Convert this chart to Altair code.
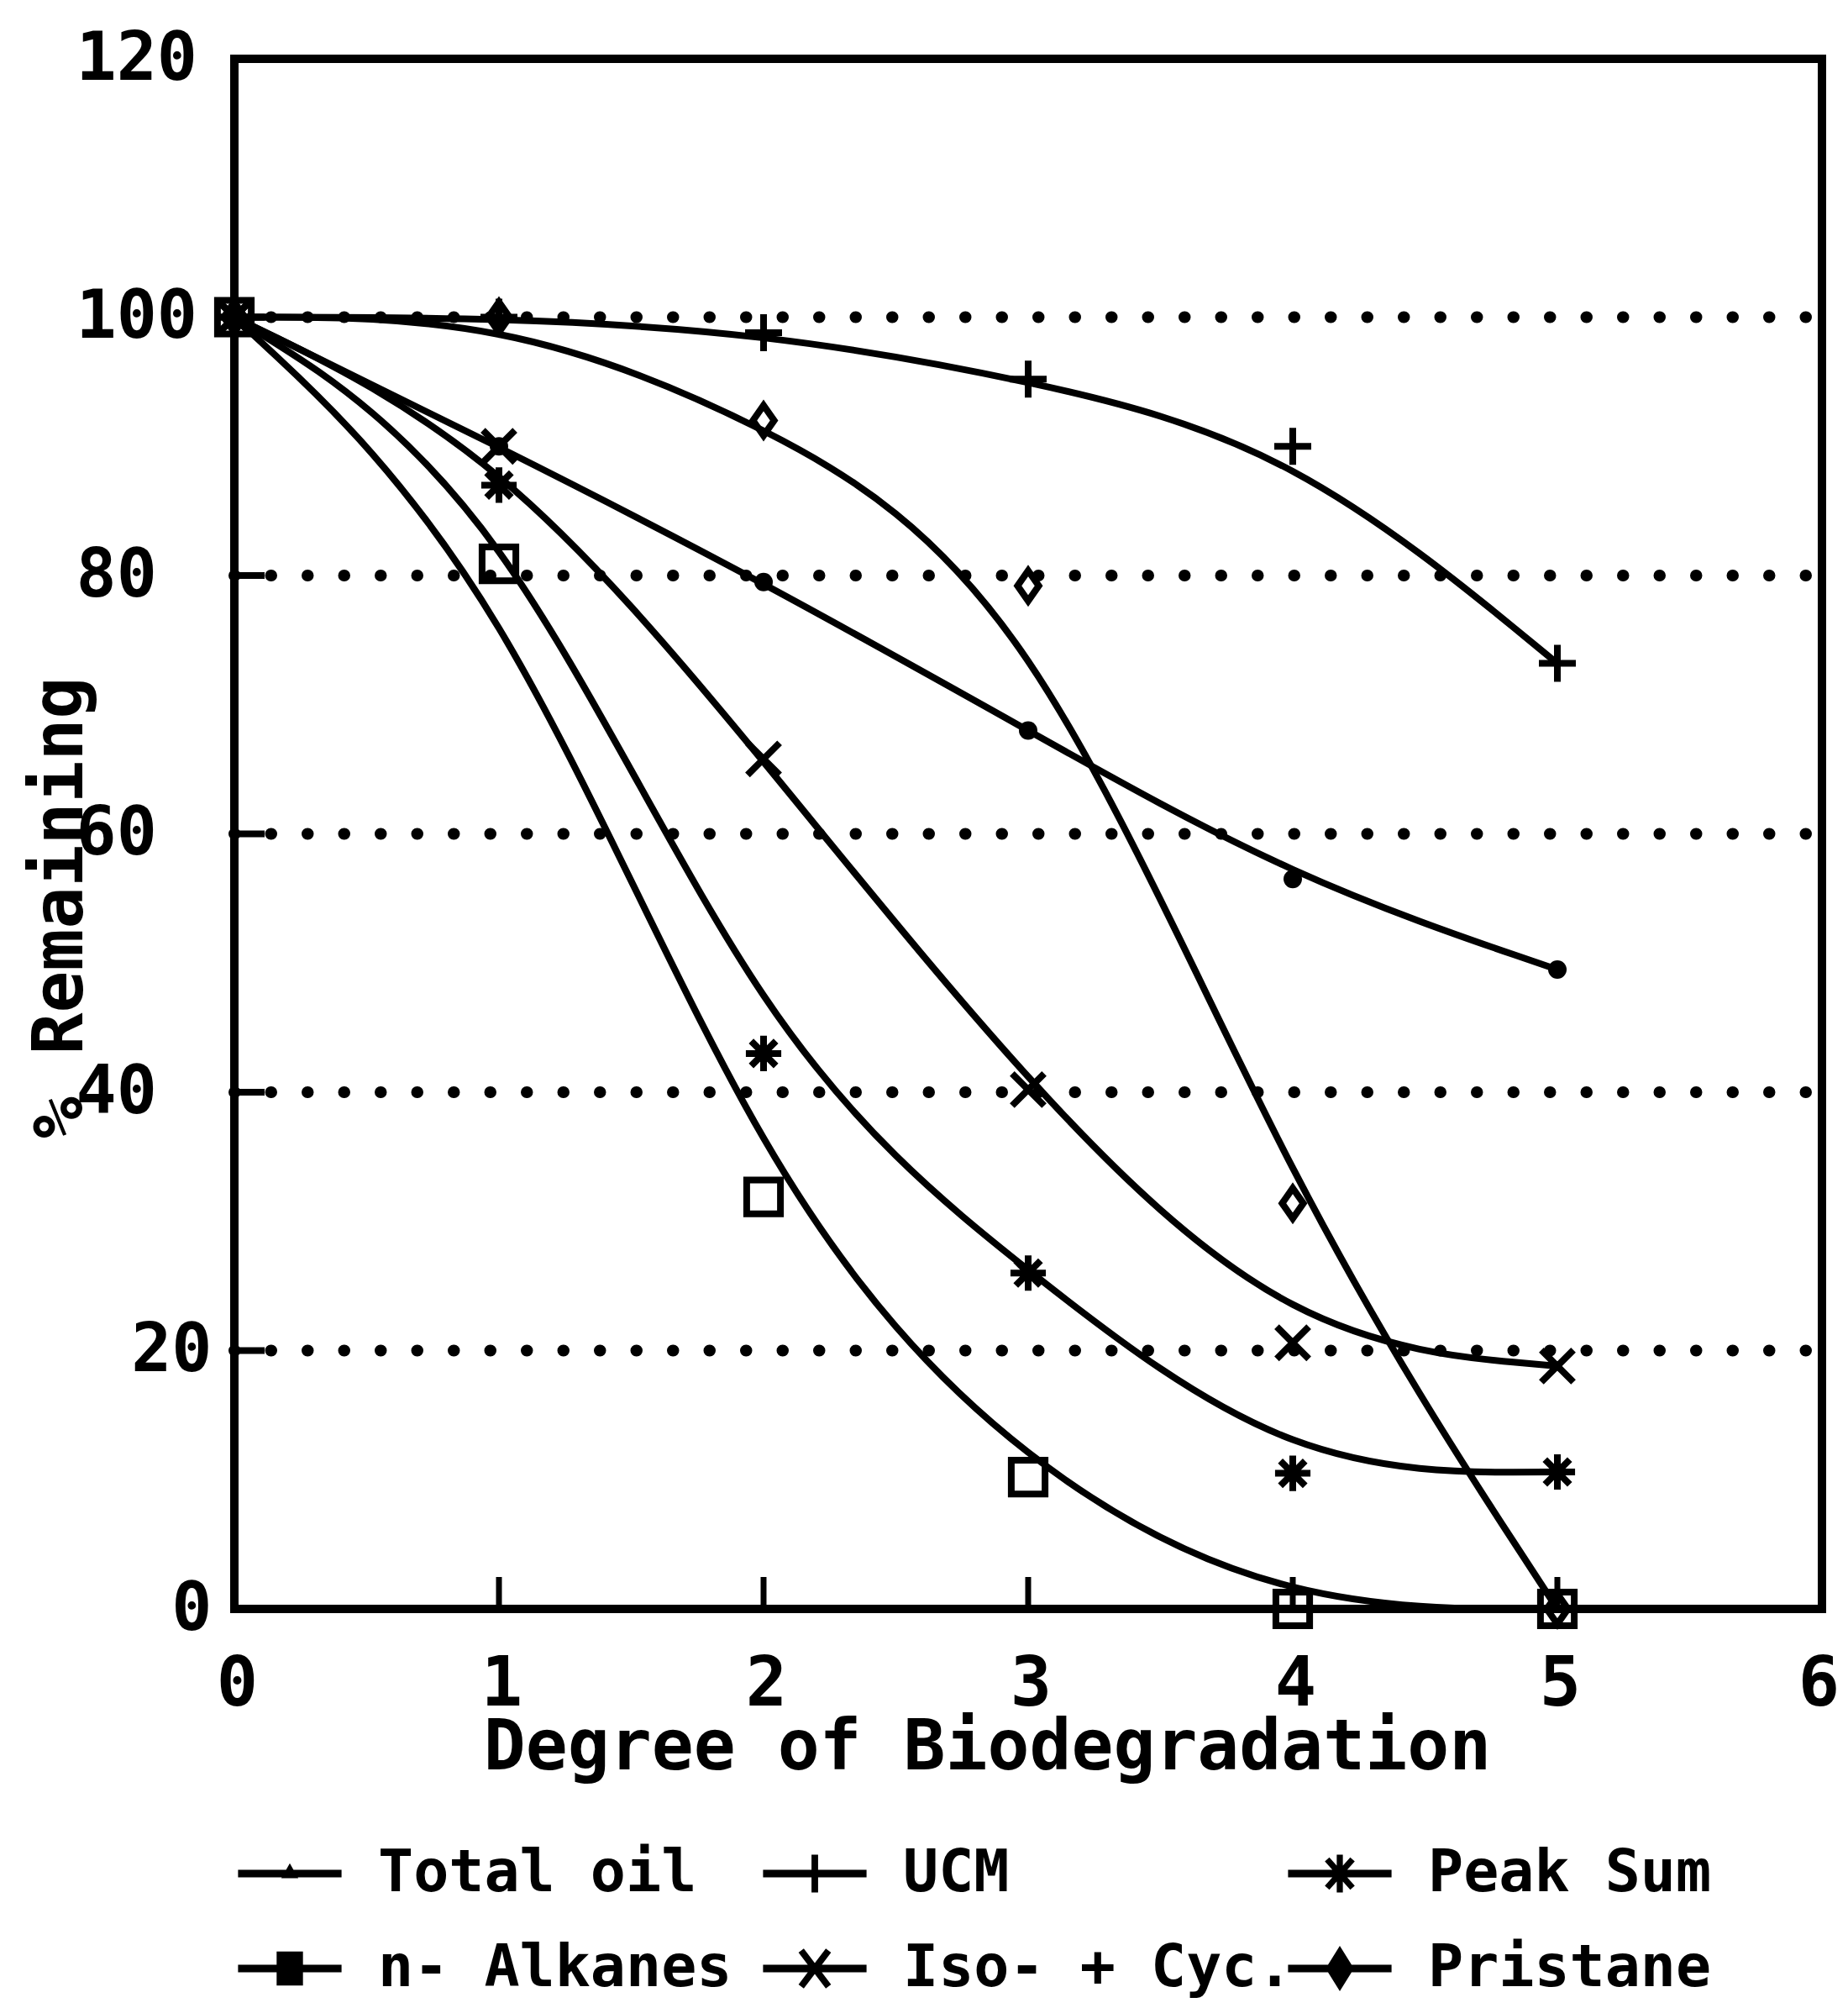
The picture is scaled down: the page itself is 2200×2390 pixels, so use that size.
import math
import altair as alt
import pandas as pd

# ---------------- data ----------------
x_vals = [0, 1, 2, 3, 4, 5]
total_oil = [100, 90, 79.5, 68, 56.5, 49.5]
ucm = [100, 100, 98.8, 95.2, 90, 73.2]
peak_sum = [100, 87, 43, 26, 10.5, 10.6]
n_alkanes = [100, 80.9, 31.9, 10.2, 0, 0]
iso_cyc = [100, 90, 65.8, 40.2, 20.6, 18.8]
pristane = [100, 100, 92, 79.2, 31.4, 0]

series_names = ["Total oil", "UCM", "Peak Sum", "n- Alkanes", "Iso- + Cyc.", "Pristane"]
series_values = [total_oil, ucm, peak_sum, n_alkanes, iso_cyc, pristane]

grid_values = [20, 40, 60, 80, 100]
x_tick_values = [0, 1, 2, 3, 4, 5, 6]
x_inner_ticks = [1, 2, 3, 4, 5]
y_tick_values = [0, 20, 40, 60, 80, 100, 120]

x_title = "Degree of Biodegradation"
y_title = "% Remaining"

# ---------------- styling ----------------
W, H = 1890, 1845
FONT = "DejaVu Sans Mono"

rows = []
for name, vals in zip(series_names, series_values):
    for xv, yv in zip(x_vals, vals):
        rows.append({"x": xv, "y": yv, "series": name})
df = pd.DataFrame(rows)

grid_df = pd.DataFrame({"g": grid_values})
xt_df = pd.DataFrame({"t": x_inner_ticks})

xscale = alt.Scale(domain=[0, 6], nice=False, zero=False)
yscale = alt.Scale(domain=[0, 120], nice=False, zero=False)

X = alt.X("x:Q", scale=xscale, axis=alt.Axis(
    values=x_tick_values, format="d", title=x_title,
    labelFont=FONT, labelFontSize=82, labelFontWeight="bold",
    labelBaseline="alphabetic", labelPadding=114, labelFlush=False,
    labelOffset={"condition": {"test": "datum.value == 6", "value": -4}, "value": 3},
    titleFont=FONT, titleFontSize=83, titleFontWeight="bold",
    titleX=896, titleY=190, titleAlign="center", titleBaseline="alphabetic",
))
Y = alt.Y("y:Q", scale=yscale, axis=alt.Axis(
    values=y_tick_values, format="d", title=y_title,
    labelFont=FONT, labelFontSize=80, labelFontWeight="bold",
    labelAlign={"condition": {"test": "datum.value <= 20", "value": "right"}, "value": "left"},
    labelPadding={"condition": {"test": "datum.value <= 20", "value": 27}, "value": 189},
    labelBaseline="middle", labelFlush=False,
    titleFont=FONT, titleFontSize=83, titleFontWeight="bold",
    titleAngle=270, titleX=-182, titleY=1010, titleAlign="center", titleBaseline="alphabetic",
))

grid = alt.Chart(grid_df).mark_rule(
    color="black", strokeWidth=14, strokeDash=[0.5, 43], strokeCap="round"
).encode(y=alt.Y("g:Q", scale=yscale), x=alt.value(0), x2=alt.value(W))

left_ticks = alt.Chart(grid_df).mark_rule(color="black", strokeWidth=8).encode(
    y=alt.Y("g:Q", scale=yscale), x=alt.value(0), x2=alt.value(36))

bottom_ticks = alt.Chart(xt_df).mark_rule(color="black", strokeWidth=7).encode(
    x=alt.X("t:Q", scale=xscale), y=alt.value(H), y2=alt.value(H - 38))

lines = alt.Chart(df).mark_line(
    interpolate="basis", color="black", strokeWidth=8, strokeCap="round", strokeJoin="round"
).encode(x=X, y=Y, detail="series:N", order="x:Q")

marker_names = ["UCM", "Peak Sum", "n- Alkanes", "Iso- + Cyc.", "Pristane"]
marker_paths = [
    "M-1,0L1,0M0,-1L0,1",
    "M-1,0L1,0M0,-1L0,1M-0.7,-0.7L0.7,0.7M-0.7,0.7L0.7,-0.7",
    "M-1,-1L1,-1L1,1L-1,1Z",
    "M-1,-1L1,1M-1,1L1,-1",
    "M0,-1L0.7,0L0,1L-0.7,0Z",
]
marker_sizes = [1936, 1296, 1024, 1024, 1444]

points = alt.Chart(df).transform_filter(
    alt.FieldOneOfPredicate(field="series", oneOf=marker_names)
).mark_point(filled=False, color="black", strokeWidth=8, opacity=1).encode(
    x=alt.X("x:Q", scale=xscale),
    y=alt.Y("y:Q", scale=yscale),
    shape=alt.Shape("series:N", scale=alt.Scale(domain=marker_names, range=marker_paths), legend=None),
    size=alt.Size("series:N", scale=alt.Scale(domain=marker_names, range=marker_sizes), legend=None),
)

dots = alt.Chart(df).transform_filter(
    alt.FieldEqualPredicate(field="series", equal="Total oil")
).mark_circle(size=484, color="black", opacity=1).encode(
    x=alt.X("x:Q", scale=xscale), y=alt.Y("y:Q", scale=yscale))


# ---- legend glyphs built as filled polygons (line + marker) ----
def poly(pts):
    area = sum(pts[i][0] * pts[(i + 1) % len(pts)][1] - pts[(i + 1) % len(pts)][0] * pts[i][1]
               for i in range(len(pts)))
    if area < 0:
        pts = pts[::-1]
    return "M" + "L".join(f"{px:.3f},{py:.3f}" for px, py in pts) + "Z"


def bar(x1, y1, x2, y2, t):
    dx, dy = x2 - x1, y2 - y1
    ln = math.hypot(dx, dy)
    nx, ny = -dy / ln * t, dx / ln * t
    return poly([(x1 + nx, y1 + ny), (x2 + nx, y2 + ny), (x2 - nx, y2 - ny), (x1 - nx, y1 - ny)])


HL = bar(-1.1, 0, 1.1, 0, 0.08)
legend_paths = [
    HL + poly([(-0.18, 0.1), (0, -0.22), (0.18, 0.1)]),
    HL + bar(0, -0.4, 0, 0.4, 0.07),
    HL + bar(0, -0.4, 0, 0.4, 0.065) + bar(-0.27, -0.3, 0.27, 0.3, 0.065)
    + bar(-0.27, 0.3, 0.27, -0.3, 0.065) + poly([(-0.15, -0.15), (0.15, -0.15), (0.15, 0.15), (-0.15, 0.15)]),
    HL + poly([(-0.28, -0.36), (0.28, -0.36), (0.28, 0.36), (-0.28, 0.36)]),
    HL + bar(-0.29, -0.38, 0.29, 0.38, 0.07) + bar(-0.29, 0.38, 0.29, -0.38, 0.07),
    HL + poly([(0, -0.48), (0.3, 0), (0, 0.48), (-0.3, 0)]),
]

legend_layer = alt.Chart(df).transform_filter("false").mark_point(
    filled=True, color="black", opacity=1, size=12544
).encode(
    x=alt.X("x:Q", scale=xscale),
    y=alt.Y("y:Q", scale=yscale),
    shape=alt.Shape("series:N", scale=alt.Scale(domain=series_names, range=legend_paths),
                    legend=alt.Legend(
                        title=None, orient="none", legendX=10, legendY=2104,
                        direction="horizontal",
                        columns=3, gridAlign="all", columnPadding=-18, rowPadding=22,
                        padding=0, symbolSize=12544, symbolStrokeWidth=0,
                        symbolFillColor="black", symbolOpacity=1,
                        labelFont=FONT, labelFontSize=70, labelFontWeight="bold",
                        labelOffset=49, labelLimit=1000, labelColor="black",
                    )),
)

chart = alt.layer(grid, left_ticks, bottom_ticks, lines, points, dots, legend_layer).resolve_scale(
    shape="independent", size="independent"
).properties(
    width=W, height=H,
    autosize=alt.AutoSizeParams(type="none"),
    padding={"left": 271, "top": 62, "right": 23, "bottom": 466},
    background="white",
).configure_view(
    stroke="black", strokeWidth=10
).configure_axis(
    domain=False, ticks=False, tickSize=0, grid=False, labelColor="black", titleColor="black",
)

chart.save("out.html", embed_options={"renderer": "svg", "actions": False})
